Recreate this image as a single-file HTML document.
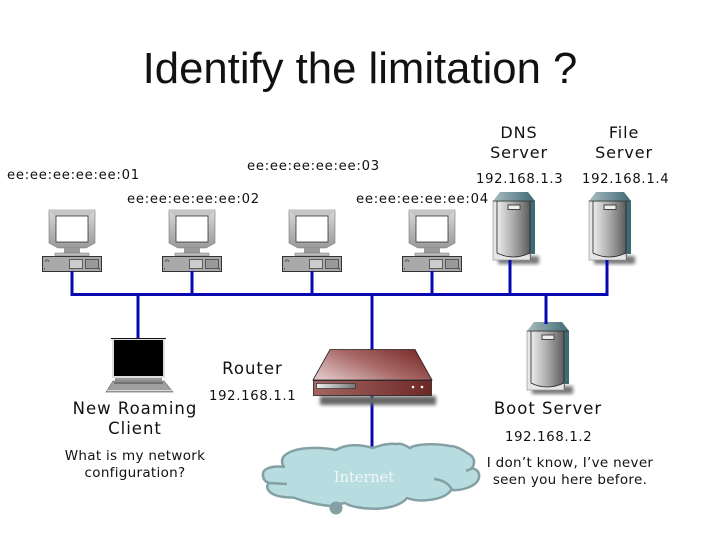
<!DOCTYPE html>
<html><head><meta charset="utf-8"><style>
html,body{margin:0;padding:0;background:#fff}
svg{display:block}
.t{font-family:"DejaVu Sans",Verdana,sans-serif;fill:#111}
</style></head><body>
<svg width="720" height="540" viewBox="0 0 720 540" xmlns="http://www.w3.org/2000/svg">
<defs>
<linearGradient id="sv" x1="0" x2="1" y1="0" y2="0"><stop offset="0" stop-color="#ececec"/><stop offset=".5" stop-color="#aaa"/><stop offset="1" stop-color="#5c5c5c"/></linearGradient>
<linearGradient id="mon" x1="0" x2="0" y1="0" y2="1"><stop offset="0" stop-color="#d8d8d8"/><stop offset="1" stop-color="#999"/></linearGradient>
<linearGradient id="rt" x1="0" x2="1" y1="0.8" y2="0.2"><stop offset="0" stop-color="#dfc2c2"/><stop offset=".5" stop-color="#a86a68"/><stop offset="1" stop-color="#7a2c2a"/></linearGradient>
<linearGradient id="rf" x1="0" x2="1" y1="0" y2="0"><stop offset="0" stop-color="#a56562"/><stop offset="1" stop-color="#6d2826"/></linearGradient>
<linearGradient id="slot" x1="0" x2="1" y1="0" y2="0"><stop offset="0" stop-color="#eee"/><stop offset="1" stop-color="#777"/></linearGradient>
<linearGradient id="top" x1="0" x2="1" y1="0" y2="0"><stop offset="0" stop-color="#a9bcc0"/><stop offset="1" stop-color="#3f6a74"/></linearGradient>
<filter id="b" x="-20%" y="-30%" width="140%" height="160%"><feGaussianBlur stdDeviation="1.800"/></filter>
<g id="pc">
<path d="M7 0H53V33L44 38H16L7 33Z" fill="url(#mon)" stroke="#777" stroke-width=".6"/>
<path d="M7 0H53L47 6H13Z" fill="#c6c6c6"/>
<rect x="14" y="6" width="32" height="26" fill="#fff" stroke="#333" stroke-width=".8"/>
<rect x="22" y="38" width="16" height="5" fill="#999"/>
<rect x="13" y="43" width="34" height="3" fill="#bbb" stroke="#777" stroke-width=".5"/>
<rect x="0.500" y="46.500" width="59" height="15" fill="#a9a9a9" stroke="#333"/>
<rect x="27.500" y="49.500" width="13" height="9" fill="#ccc" stroke="#444" stroke-width=".8"/>
<rect x="43.500" y="49.500" width="13" height="9" fill="#999" stroke="#444" stroke-width=".8"/>
<path d="M3 52a2 2 0 0 1 4 0" fill="none" stroke="#333" stroke-width=".7"/>
<path d="M2 59h1M57 59h1" stroke="#111"/>
</g>
<g id="srv">
<path d="M5 64H46V72H5Z" fill="#777" filter="url(#b)"/>
<path d="M0 9H42V62H38V68H0Z" fill="#3f6a74"/>
<path d="M0 9H37V68H0Z" fill="#e6e6e6" stroke="#999" stroke-width=".7"/>
<path d="M4 9V61Q20 69 37 61V9Z" fill="url(#sv)" stroke="#222" stroke-width=".8"/>
<path d="M0 9L7 0H35L42 9Z" fill="url(#top)"/>
<path d="M0 9H42" stroke="#333" stroke-width=".7"/>
<rect x="15" y="13" width="12" height="4.500" fill="#eee" stroke="#444"/>
</g>
</defs>

<text x="360" y="83" text-anchor="middle" font-family="Liberation Sans,sans-serif" font-size="43.700" fill="#111">Identify the limitation ?</text>

<use href="#pc" x="42" y="210"/><use href="#pc" x="162" y="210"/><use href="#pc" x="282" y="210"/><use href="#pc" x="402" y="210"/>
<use href="#srv" x="493" y="192"/><use href="#srv" x="589" y="192"/><use href="#srv" x="527" y="322"/>

<g stroke="#0808b0" stroke-width="3" fill="none">
<path d="M72 271V294.500H607V260M192 271V294M312 271V294M432 271V294M510 260V294"/>
<path d="M138 294V338M372 294V350M546 294V324M372 396V447"/>
</g>

<!-- laptop -->
<path d="M111 338.500H166" stroke="#111"/>
<rect x="112" y="339" width="53" height="39" fill="#ddd"/>
<rect x="114" y="340" width="49" height="36" fill="#000"/>
<rect x="115" y="378" width="47" height="3" fill="#999"/>
<path d="M113 381H164L173 392H106Z" fill="#a0a0a0" stroke="#777" stroke-width=".7"/>
<path d="M114 383H163" stroke="#222" stroke-width=".8"/>
<path d="M107 390.500H172" stroke="#ddd"/>

<!-- router -->
<path d="M320 396H436V405H320Z" fill="#666" filter="url(#b)"/>
<path d="M330 349.500H415L432 380H313Z" fill="url(#rt)" stroke="#222" stroke-width=".8"/>
<rect x="313.500" y="380.500" width="118" height="15" fill="url(#rf)" stroke="#222" stroke-width=".8"/>
<rect x="316.500" y="383.500" width="39" height="5" fill="url(#slot)" stroke="#333" stroke-width=".7"/>
<circle cx="413" cy="387" r="1.300" fill="#fff"/><circle cx="422" cy="387" r="1.300" fill="#fff"/>

<!-- cloud -->
<path d="M373 448C360 444 345 444 336 450C320 447 295 446 284 456C281 460 282 464 284 467C272 465 262 469 263 475C263 480 266 482 269 483C265 487 268 492 275 495C282 498 290 497 295 498C305 502 320 505 330 506C335 504 340 504 345 503C355 510 395 513 407 498C420 503 445 500 451 490C462 491 478 486 479 477C480 472 476 469 472 468C476 462 474 456 467 453C460 448 455 446 450 446C435 443 415 444 410 448C405 445 400 443 397 444C390 443 380 445 373 448Z" fill="#b8dde1" stroke="#84a0a5" stroke-width="2.500" stroke-linejoin="round"/>
<circle cx="336" cy="508" r="6.500" fill="#84a0a5"/>
<path d="M269 483L287 484M434 479C444 480 450 485 452 490M466 471L473 468" fill="none" stroke="#84a0a5" stroke-width="2.500"/>
<text x="364" y="482" text-anchor="middle" font-family="DejaVu Serif,Liberation Serif,serif" font-size="14.500" fill="#f0f6f6">Internet</text>

<g class="t" font-size="13.200" letter-spacing=".75">
<text x="7" y="179">ee:ee:ee:ee:ee:01</text>
<text x="127" y="203">ee:ee:ee:ee:ee:02</text>
<text x="247" y="170">ee:ee:ee:ee:ee:03</text>
<text x="356" y="203">ee:ee:ee:ee:ee:04</text>
</g>
<g class="t" font-size="13.200" letter-spacing=".7">
<text x="476" y="183">192.168.1.3</text>
<text x="582" y="183">192.168.1.4</text>
<text x="209" y="400">192.168.1.1</text>
<text x="505" y="441">192.168.1.2</text>
</g>
<g class="t" font-size="16" text-anchor="middle" letter-spacing=".9">
<text x="519" y="138">DNS</text><text x="519" y="158">Server</text>
<text x="624" y="138">File</text><text x="624" y="158">Server</text>
</g>
<g class="t" font-size="16.500" text-anchor="middle" letter-spacing="1">
<text x="252.500" y="374">Router</text>
<text x="135" y="414">New Roaming</text><text x="135" y="434">Client</text>
<text x="548" y="414">Boot Server</text>
</g>
<g class="t" font-size="13.500" text-anchor="middle" letter-spacing=".3">
<text x="135" y="460">What is my network</text><text x="135" y="477">configuration?</text>
<text x="570" y="467">I don’t know, I’ve never</text><text x="570" y="484">seen you here before.</text>
</g>
</svg>
</body></html>
